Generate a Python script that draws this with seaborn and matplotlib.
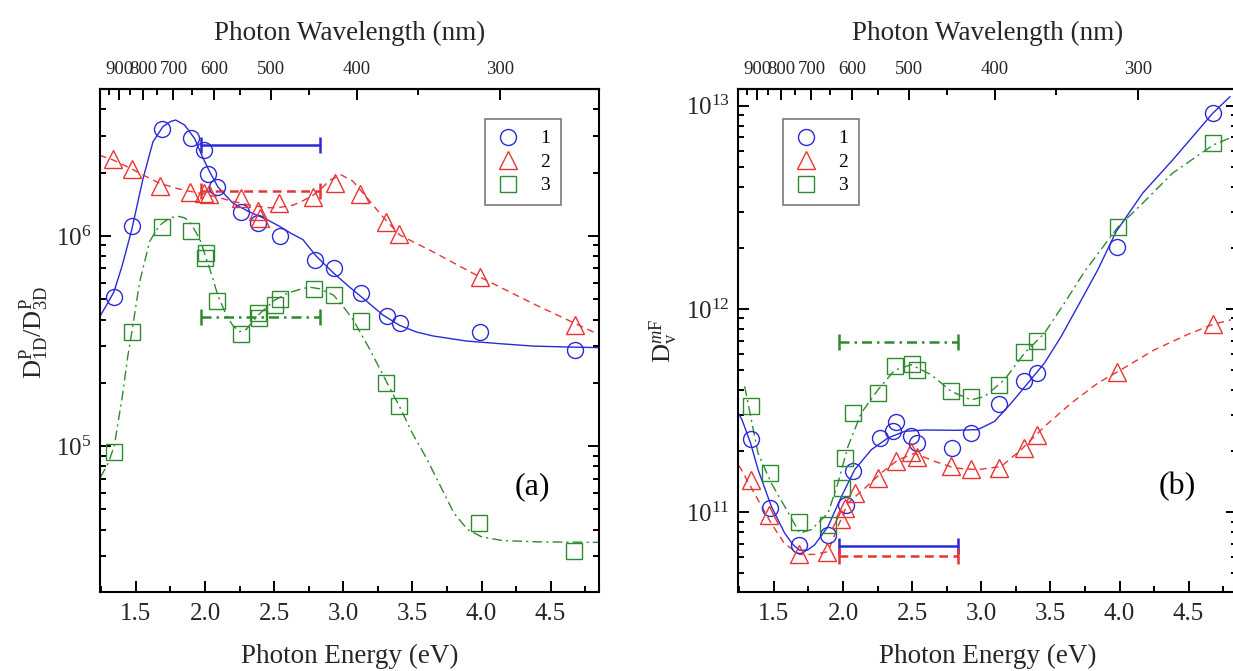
import numpy as np
import matplotlib
matplotlib.use("Agg")
import matplotlib.pyplot as plt
import seaborn as sns
from matplotlib.ticker import LogLocator, NullFormatter, FixedLocator, MultipleLocator, FormatStrFormatter

# ---------------- data: panel (a) ----------------
E1a = [1.338, 1.471, 1.686, 1.895, 1.994, 2.021, 2.090, 2.262, 2.382, 2.539, 2.793, 2.930, 3.130, 3.316, 3.408, 3.987, 4.674]
D1a = [5.13e5, 1.12e6, 3.21e6, 2.93e6, 2.56e6, 1.97e6, 1.71e6, 1.30e6, 1.15e6, 1.0e6, 7.7e5, 7.0e5, 5.37e5, 4.15e5, 3.83e5, 3.49e5, 2.86e5]
E2a = [1.333, 1.471, 1.671, 1.893, 1.99, 2.03, 2.262, 2.382, 2.395, 2.534, 2.78, 2.937, 3.118, 3.306, 3.403, 3.987, 4.674]
D2a = [2.32e6, 2.08e6, 1.73e6, 1.62e6, 1.60e6, 1.58e6, 1.51e6, 1.32e6, 1.22e6, 1.43e6, 1.53e6, 1.79e6, 1.58e6, 1.17e6, 1.02e6, 6.38e5, 3.78e5]
E3a = [1.343, 1.471, 1.690, 1.900, 1.997, 2.009, 2.086, 2.262, 2.380, 2.392, 2.503, 2.539, 2.788, 2.930, 3.130, 3.308, 3.405, 3.979, 4.670]
D3a = [9.35e4, 3.47e5, 1.10e6, 1.06e6, 7.89e5, 8.25e5, 4.9e5, 3.43e5, 4.3e5, 4.05e5, 4.68e5, 5.0e5, 5.57e5, 5.22e5, 3.93e5, 2.0e5, 1.55e5, 4.3e4, 3.16e4]

# fitted curves, panel (a)
fitE1a = [1.245, 1.28, 1.34, 1.40, 1.471, 1.551, 1.623, 1.695, 1.75, 1.787, 1.852, 1.924, 1.985, 2.033, 2.093,
          2.202, 2.322, 2.443, 2.539, 2.62, 2.708, 2.805, 2.925, 3.046, 3.167, 3.287, 3.408, 3.528, 3.649, 3.890,
          4.131, 4.373, 4.614, 4.845]
fitD1a = [4.2e5, 4.6e5, 5.4e5, 7.2e5, 1.08e6, 1.87e6, 2.8e6, 3.31e6, 3.5e6, 3.56e6, 3.37e6, 2.91e6, 2.35e6, 2.02e6, 1.71e6,
          1.43e6, 1.30e6, 1.20e6, 1.11e6, 1.03e6, 9.6e5, 8.0e5, 6.7e5, 5.7e5, 4.9e5, 4.2e5, 3.75e5, 3.49e5, 3.34e5, 3.16e5,
          3.07e5, 2.99e5, 2.96e5, 2.94e5]
fitE2a = [1.237, 1.333, 1.471, 1.551, 1.671, 1.80, 1.888, 2.0, 2.10, 2.202, 2.32, 2.467, 2.55, 2.636, 2.70, 2.781,
          2.85, 2.901, 2.986, 3.07, 3.167, 3.287, 3.408, 3.649, 3.987, 4.373, 4.845]
fitD2a = [2.42e6, 2.30e6, 2.08e6, 1.95e6, 1.78e6, 1.68e6, 1.63e6, 1.58e6, 1.52e6, 1.46e6, 1.40e6, 1.36e6, 1.37e6, 1.40e6,
          1.46e6, 1.56e6, 1.70e6, 1.84e6, 1.95e6, 1.82e6, 1.53e6, 1.23e6, 1.01e6, 8.4e5, 6.38e5, 4.76e5, 3.4e5]
fitE3a = [1.243, 1.30, 1.343, 1.40, 1.442, 1.471, 1.526, 1.599, 1.65, 1.690, 1.75, 1.804, 1.85, 1.888, 1.961, 2.033,
          2.093, 2.154, 2.20, 2.25, 2.30, 2.383, 2.45, 2.503, 2.60, 2.70, 2.757, 2.83, 2.93, 3.00, 3.07, 3.19, 3.308,
          3.405, 3.50, 3.60, 3.70, 3.80, 3.90, 4.00, 4.15, 4.40, 4.845]
fitD3a = [7.1e4, 8.3e4, 1.0e5, 1.7e5, 2.7e5, 3.5e5, 6.0e5, 9.4e5, 1.07e6, 1.15e6, 1.22e6, 1.24e6, 1.22e6, 1.17e6, 9.7e5,
          7.0e5, 5.2e5, 4.19e5, 3.75e5, 3.5e5, 3.6e5, 4.19e5, 4.6e5, 4.94e5, 5.35e5, 5.6e5, 5.7e5, 5.6e5, 5.22e5,
          4.6e5, 4.0e5, 2.9e5, 2.05e5, 1.55e5, 1.15e5, 8.8e4, 6.5e4, 4.8e4, 4.0e4, 3.7e4, 3.55e4, 3.5e4, 3.48e4]

# ---------------- data: panel (b) ----------------
E1b = [1.336, 1.469, 1.681, 1.891, 2.023, 2.072, 2.264, 2.361, 2.385, 2.493, 2.537, 2.787, 2.927, 3.125, 3.308, 3.404, 3.983, 4.675]
D1b = [2.29e11, 1.05e11, 6.9e10, 7.7e10, 1.08e11, 1.6e11, 2.33e11, 2.52e11, 2.77e11, 2.36e11, 2.19e11, 2.07e11, 2.46e11, 3.42e11, 4.41e11, 4.84e11, 2.01e12, 9.2e12]
E2b = [1.332, 1.462, 1.681, 1.886, 1.987, 2.011, 2.084, 2.252, 2.385, 2.488, 2.537, 2.783, 2.927, 3.125, 3.308, 3.404, 3.983, 4.675]
D2b = [1.44e11, 9.7e10, 6.2e10, 6.4e10, 9.3e10, 1.05e11, 1.24e11, 1.47e11, 1.78e11, 1.98e11, 1.88e11, 1.69e11, 1.63e11, 1.66e11, 2.08e11, 2.41e11, 4.88e11, 8.4e11]
E3b = [1.336, 1.469, 1.681, 1.891, 1.992, 2.016, 2.072, 2.252, 2.373, 2.498, 2.537, 2.783, 2.927, 3.125, 3.308, 3.404, 3.988, 4.675]
D3b = [3.32e11, 1.56e11, 9.0e10, 8.7e10, 1.31e11, 1.85e11, 3.08e11, 3.86e11, 5.22e11, 5.38e11, 5.02e11, 3.97e11, 3.71e11, 4.24e11, 6.12e11, 6.93e11, 2.53e12, 6.56e12]

fitE1b = [1.245, 1.269, 1.33, 1.385, 1.481, 1.577, 1.64, 1.686, 1.74, 1.794, 1.891, 1.987, 2.084, 2.204, 2.325, 2.445, 2.59,
          2.807, 2.975, 3.096, 3.216, 3.337, 3.457, 3.578, 3.698, 3.843, 3.975, 4.168, 4.385, 4.675, 4.80]
fitD1b = [3.05e11, 2.85e11, 2.2e11, 1.62e11, 1.07e11, 7.9e10, 6.9e10, 6.5e10, 6.5e10, 6.9e10, 8.5e10, 1.19e11, 1.62e11, 2.03e11,
          2.32e11, 2.5e11, 2.54e11, 2.53e11, 2.55e11, 2.8e11, 3.44e11, 4.32e11, 5.42e11, 7.33e11, 1.03e12, 1.56e12,
          2.4e12, 3.72e12, 5.42e12, 9.2e12, 1.11e13]
fitE2b = [1.245, 1.264, 1.385, 1.481, 1.577, 1.686, 1.794, 1.891, 1.963, 2.035, 2.156, 2.276, 2.397, 2.517, 2.662, 2.807,
          2.975, 3.144, 3.288, 3.457, 3.65, 3.843, 3.983, 4.253, 4.494, 4.675, 4.807]
fitD2b = [1.7e11, 1.62e11, 1.15e11, 8.8e10, 7.0e10, 6.2e10, 6.2e10, 6.4e10, 8.5e10, 1.11e11, 1.31e11, 1.56e11, 1.81e11, 1.95e11,
          1.78e11, 1.65e11, 1.62e11, 1.68e11, 2.03e11, 2.64e11, 3.44e11, 4.32e11, 4.9e11, 6.3e11, 7.5e11, 8.4e11, 8.85e11]
fitE3b = [1.288, 1.33, 1.385, 1.481, 1.577, 1.686, 1.77, 1.891, 1.963, 2.035, 2.132, 2.252, 2.373, 2.493, 2.638, 2.783,
          2.927, 3.024, 3.168, 3.313, 3.457, 3.602, 3.747, 3.988, 4.168, 4.385, 4.675, 4.795]
fitD3b = [4.16e11, 3.0e11, 1.95e11, 1.39e11, 1.07e11, 7.9e10, 8.2e10, 9.9e10, 1.39e11, 2.1e11, 3.08e11, 4.0e11, 5.0e11,
          5.32e11, 4.75e11, 3.93e11, 3.57e11, 3.71e11, 4.49e11, 6.07e11, 7.6e11, 1.07e12, 1.53e12, 2.53e12, 3.32e12,
          4.67e12, 6.4e12, 6.93e12]

# spectral window bars (energy range) and their levels
band_E = [1.97, 2.83]
band_a = [2.72e6, 1.64e6, 4.1e5]
band_b = [6.82e10, 6.1e10, 6.85e11]

series_labels = ["1", "2", "3"]
energy_ticks = [1.5, 2.0, 2.5, 3.0, 3.5, 4.0, 4.5]
wl_major = [900, 800, 700, 600, 500, 400, 300]
wl_minor = [950, 850, 750, 650, 550, 450, 350]

# ---------------- style ----------------
sns.set_theme(style="ticks")
plt.rcParams["font.family"] = ["Liberation Serif", "DejaVu Serif"]
plt.rcParams["mathtext.fontset"] = "custom"
plt.rcParams["mathtext.rm"] = "Liberation Serif"
plt.rcParams["mathtext.it"] = "Liberation Serif:italic"
plt.rcParams["axes.linewidth"] = 1.5
plt.rcParams["axes.edgecolor"] = "black"
plt.rcParams["text.color"] = "black"

BLUE = "#2a2ad8"
RED = "#e83434"
GREEN = "#2f8a2f"
colors = [BLUE, RED, GREEN]
markers = ["o", "^", "s"]
msizes = [11.5, 13, 11]
fit_dashes = [None, (5, 3.5), (7, 3, 1.5, 3)]
bar_dashes = [None, (3.5, 2.2), (4, 2, 1, 2)]

XLIM = (1.24, 4.85)


def e2nm(x):
    x = np.asarray(x, dtype=float)
    with np.errstate(divide="ignore", invalid="ignore"):
        return np.where(x != 0, 1240.0 / np.where(x != 0, x, 1.0), np.inf)


def style_axes(ax, ylim, ylabel, tag, tag_x, label_y):
    ax.set_yscale("log")
    ax.set_xlim(*XLIM)
    ax.set_ylim(*ylim)
    ax.xaxis.set_major_locator(FixedLocator(energy_ticks))
    ax.xaxis.set_major_formatter(FormatStrFormatter("%.1f"))
    ax.xaxis.set_minor_locator(MultipleLocator(0.25))
    ax.yaxis.set_major_locator(LogLocator(base=10, numticks=20))
    ax.yaxis.set_minor_locator(LogLocator(base=10, subs=np.arange(2, 10), numticks=20))
    ax.yaxis.set_minor_formatter(NullFormatter())
    ax.tick_params(which="both", direction="in", top=False, right=True, color="black", width=1.4)
    ax.tick_params(which="major", length=8)
    ax.tick_params(which="minor", length=4.3)
    ax.tick_params(axis="x", which="major", labelsize=18, pad=8)
    ax.tick_params(axis="y", which="major", labelsize=18, pad=6)
    for s in ax.spines.values():
        s.set_linewidth(1.5)
        s.set_color("black")
    ax.set_xlabel("Photon Energy (eV)", fontsize=19.5, labelpad=13.5)
    ax.set_ylabel(ylabel, fontsize=19, labelpad=4)
    ax.yaxis.label.set_y(label_y)
    ax.grid(False)

    top = ax.secondary_xaxis("top", functions=(e2nm, e2nm))
    top.xaxis.set_major_locator(FixedLocator(wl_major))
    top.xaxis.set_minor_locator(FixedLocator(wl_minor))
    top.xaxis.set_major_formatter(FormatStrFormatter("%d"))
    top.tick_params(which="both", direction="in", color="black", width=1.4)
    top.tick_params(which="major", length=8, labelsize=13.5, pad=8)
    top.tick_params(which="minor", length=4.3)
    top.spines["top"].set_linewidth(1.5)
    top.set_xlabel("Photon Wavelength (nm)", fontsize=19.5, labelpad=15)

    ax.text(tag_x, 0.21, tag, transform=ax.transAxes, fontsize=23, ha="center", va="center")


def draw_panel(ax, pts, fits, band_levels):
    handles = []
    for i in range(3):
        fE, fD = fits[i]
        sns.lineplot(x=fE, y=fD, ax=ax, estimator=None, sort=False, color=colors[i], lw=1.0)
        line = ax.lines[-1]
        if fit_dashes[i] is not None:
            line.set_dashes(fit_dashes[i])
    for i in range(3):
        yb = [band_levels[i], band_levels[i]]
        sns.lineplot(x=band_E, y=yb, ax=ax, estimator=None, sort=False, color=colors[i], lw=1.8,
                     marker="|", markersize=12, markeredgewidth=1.8, markeredgecolor=colors[i])
        line = ax.lines[-1]
        if bar_dashes[i] is not None:
            line.set_dashes(bar_dashes[i])
    for i in range(3):
        pE, pD = pts[i]
        sns.lineplot(x=pE, y=pD, ax=ax, estimator=None, sort=False, color=colors[i], linestyle="none",
                     marker=markers[i], markersize=msizes[i], markerfacecolor="none",
                     markeredgecolor=colors[i], markeredgewidth=1.0)
        handles.append(ax.lines[-1])
    return handles


fig = plt.figure(figsize=(12.33, 6.71), dpi=100)
W, H = 1233.0, 671.0
axA = fig.add_axes([100 / W, 79 / H, 499 / W, 503 / H])
axB = fig.add_axes([738 / W, 79 / H, 499 / W, 503 / H])

hA = draw_panel(axA,
                [(E1a, D1a), (E2a, D2a), (E3a, D3a)],
                [(fitE1a, fitD1a), (fitE2a, fitD2a), (fitE3a, fitD3a)],
                band_a)
hB = draw_panel(axB,
                [(E1b, D1b), (E2b, D2b), (E3b, D3b)],
                [(fitE1b, fitD1b), (fitE2b, fitD2b), (fitE3b, fitD3b)],
                band_b)

style_axes(axA, (2.02e4, 5.0e6), r"$\mathrm{D}^{\mathrm{P}}_{\mathrm{1D}}/\mathrm{D}^{\mathrm{P}}_{\mathrm{3D}}$",
           "(a)", 0.866, 0.515)
style_axes(axB, (4.05e10, 1.21e13), r"$\mathrm{D}_{\mathrm{v}}^{m\mathrm{F}}$", "(b)", 0.88, 0.50)

leg_kw = dict(fontsize=14, frameon=True, fancybox=False, framealpha=1.0, edgecolor="#7a7a7a",
              handlelength=1.3, handletextpad=1.0, labelspacing=0.3, borderpad=0.55, borderaxespad=0.0)
legA = axA.legend(hA, series_labels, loc="upper right", bbox_to_anchor=(0.924, 0.940), **leg_kw)
legB = axB.legend(hB, series_labels, loc="upper left", bbox_to_anchor=(0.090, 0.940), **leg_kw)
for lg in (legA, legB):
    lg.get_frame().set_linewidth(1.2)

fig.savefig("out.png", dpi=100, facecolor="white")
